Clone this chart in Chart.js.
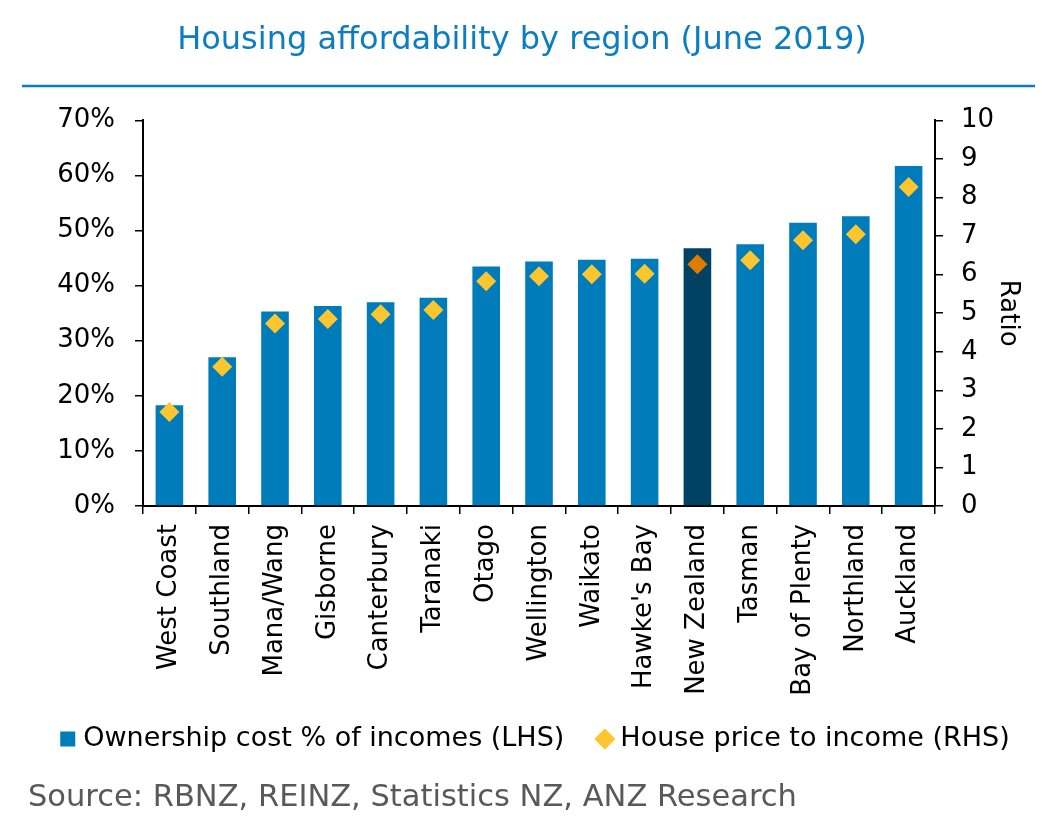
<!DOCTYPE html>
<html>
<head>
<meta charset="utf-8">
<script src="https://cdn.jsdelivr.net/npm/chart.js@4"></script>
<style>
html,body{margin:0;padding:0;background:#fff;}
#wrap{position:relative;width:1058px;height:838px;}
#source{position:absolute;left:28px;top:778px;font-family:"DejaVu Sans";font-size:30.5px;line-height:36px;color:#595959;white-space:nowrap;}
</style>
</head>
<body>
<div id="wrap">
<canvas id="c" width="1058" height="838"></canvas>
<div id="source">Source: RBNZ, REINZ, Statistics NZ, ANZ Research</div>
</div>
<script>
const categories = ["West Coast","Southland","Mana/Wang","Gisborne","Canterbury","Taranaki","Otago","Wellington","Waikato","Hawke's Bay","New Zealand","Tasman","Bay of Plenty","Northland","Auckland"];
const ownershipCost = [18.3, 27.0, 35.3, 36.3, 37.0, 37.8, 43.5, 44.4, 44.7, 44.9, 46.8, 47.5, 51.4, 52.6, 61.7];
const priceToIncome = [2.44, 3.61, 4.73, 4.85, 4.97, 5.08, 5.83, 5.96, 6.01, 6.02, 6.27, 6.37, 6.89, 7.05, 8.27];
const highlightCategory = "New Zealand";
const seriesNames = ["Ownership cost % of incomes (LHS)", "House price to income (RHS)"];
const titleText = "Housing affordability by region (June 2019)";
const rightAxisTitle = "Ratio";

const barColor = "#007CBA", barHighlight = "#004164";
const dotColor = "#FDC62F", dotHighlight = "#E07B00";
const blue = "#0B7DC0";

Chart.defaults.font.family = "DejaVu Sans";
Chart.defaults.color = "#000";

const LEGEND_PAD = 38.5, LEGEND_FONT = 27;

const decorPlugin = {
  id: "decor",
  afterLayout(chart) {
    // centre the title where the reference has it
    const t = chart.titleBlock;
    if (t) {
      const shift = 522 - (t.left + t.right) / 2;
      t.left += shift; t.right += shift;
    }
    // lift the legend row to the reference's text line
    const l = chart.legend;
    if (l) {
      const centre = l.top + LEGEND_PAD + LEGEND_FONT / 2;
      const dy = 739 - centre;
      l.top += dy; l.bottom += dy;
    }
  },
  afterDraw(chart) {
    const ctx = chart.ctx;
    ctx.save();
    ctx.strokeStyle = blue;
    ctx.lineWidth = 2.5;
    ctx.beginPath();
    ctx.moveTo(22, 86);
    ctx.lineTo(1035, 86);
    ctx.stroke();
    ctx.restore();
  }
};

const axisGrid = {drawOnChartArea: false, drawTicks: true, tickLength: 8, color: "#000", lineWidth: 1.5};
const axisBorder = {display: true, color: "#000", width: 2};
const tickFont = {family: "DejaVu Sans", size: 26};

new Chart(document.getElementById("c"), {
  data: {
    labels: categories,
    datasets: [
      {
        type: "bar",
        label: seriesNames[0],
        data: ownershipCost,
        yAxisID: "y",
        order: 1,
        backgroundColor: categories.map(c => c === highlightCategory ? barHighlight : barColor),
        borderWidth: 0,
        barPercentage: 0.523,
        categoryPercentage: 1.0
      },
      {
        type: "line",
        label: seriesNames[1],
        data: priceToIncome,
        yAxisID: "y2",
        order: 0,
        showLine: false,
        pointStyle: "rectRot",
        pointRadius: 10,
        pointHoverRadius: 10,
        pointBorderWidth: 0,
        borderColor: dotColor,
        backgroundColor: dotColor,
        pointBackgroundColor: categories.map(c => c === highlightCategory ? dotHighlight : dotColor)
      }
    ]
  },
  options: {
    responsive: false,
    animation: false,
    layout: {padding: {left: 24.5, right: 7, top: 0, bottom: 64.5}},
    plugins: {
      title: {
        display: true,
        text: titleText,
        color: blue,
        font: {family: "DejaVu Sans", size: 32, weight: "normal"},
        padding: {top: 21, bottom: 61}
      },
      legend: {
        position: "bottom",
        labels: {
          usePointStyle: true,
          boxWidth: 4,
          boxHeight: 15,
          padding: LEGEND_PAD,
          color: "#000",
          font: {family: "DejaVu Sans", size: LEGEND_FONT},
          sort: (a, b) => a.datasetIndex - b.datasetIndex,
          generateLabels(chart) {
            const items = Chart.defaults.plugins.legend.labels.generateLabels(chart);
            items.forEach(it => {
              it.pointStyle = it.datasetIndex === 0 ? "rect" : "rectRot";
              it.fillStyle = it.datasetIndex === 0 ? barColor : dotColor;
              it.lineWidth = 0;
              it.strokeStyle = "rgba(0,0,0,0)";
            });
            return items;
          }
        }
      },
      tooltip: {enabled: false}
    },
    scales: {
      x: {
        grid: Object.assign({offset: true}, axisGrid),
        border: axisBorder,
        ticks: {autoSkip: false, maxRotation: 90, minRotation: 90, padding: 10, color: "#000", font: tickFont},
        afterFit(s) { s.height = 192; }
      },
      y: {
        position: "left",
        min: 0, max: 70,
        grid: axisGrid,
        border: axisBorder,
        ticks: {stepSize: 10, padding: 20, color: "#000", font: tickFont, callback: v => v + "%"},
        afterFit(s) { s.width = 118.5; }
      },
      y2: {
        position: "right",
        min: 0, max: 10,
        grid: axisGrid,
        border: axisBorder,
        ticks: {stepSize: 1, padding: 18, color: "#000", font: tickFont},
        title: {display: true, text: rightAxisTitle, color: "#000", font: {family: "DejaVu Sans", size: 26}, padding: {top: 28, bottom: 0}},
        afterFit(s) { s.width = 116; }
      }
    }
  },
  plugins: [decorPlugin]
});
</script>
</body>
</html>
